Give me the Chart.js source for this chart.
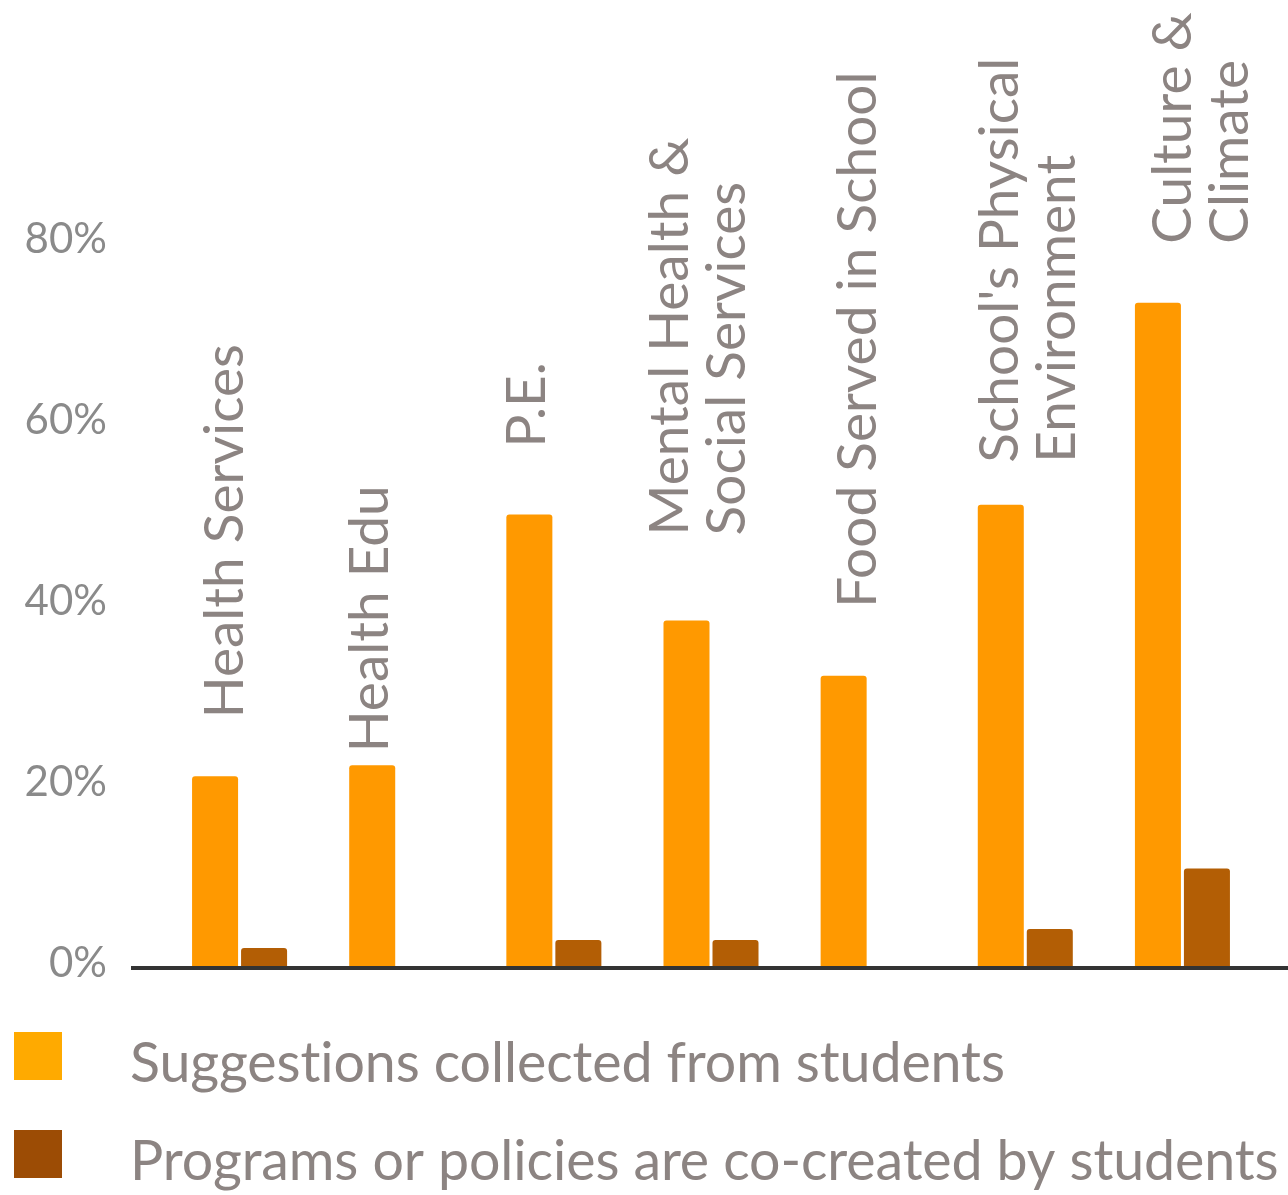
<!DOCTYPE html>
<html>
<head>
<meta charset="utf-8">
<script src="https://cdn.jsdelivr.net/npm/chart.js@4.4.1/dist/chart.umd.min.js"></script>
<style>
  html, body { margin: 0; padding: 0; background: #fff; }
  #wrap { width: 1288px; height: 1195px; }
</style>
</head>
<body>
<div id="wrap"><canvas id="studentChart" width="1288" height="1195"></canvas></div>
<script>
// categories, split into the lines used for the rotated labels
const categories = [
  ['Health Services'],
  ['Health Edu'],
  ['P.E.'],
  ['Mental Health &', 'Social Services'],
  ['Food Served in School'],
  ["School's Physical", 'Environment'],
  ['Culture &', 'Climate']
];
const suggestions = [21.2, 22.4, 50.1, 38.4, 32.3, 51.2, 73.5];
const coCreated = [2.2, null, 3.1, 3.1, null, 4.3, 11.0];
const seriesNames = ['Suggestions collected from students', 'Programs or policies are co-created by students'];
const yTicks = [0, 20, 40, 60, 80];

const barColors = ['#FF9900', '#B35E05'];
const legendColors = ['#FFAA00', '#9C4C05'];
const textGray = '#8c8482';

// rotated label placement: baseline shift from the category centre, gap above the bar
const labelNudgeX = [3, -9, -9, 34, 8, 50, 66];
const labelLift = [58, 13, 67, 85, 68, 42, 59];

const categoryLabels = {
  id: 'categoryLabels',
  afterDatasetsDraw(chart) {
    const ctx = chart.ctx;
    const xs = chart.scales.x;
    const bars = chart.getDatasetMeta(0).data;
    ctx.save();
    ctx.font = '55px Lato';
    ctx.fillStyle = textGray;
    ctx.textAlign = 'left';
    ctx.textBaseline = 'alphabetic';
    bars.forEach((bar, i) => {
      const lines = chart.data.labels[i];
      ctx.save();
      ctx.translate(xs.getPixelForValue(i) + labelNudgeX[i], bar.y - labelLift[i]);
      ctx.rotate(-Math.PI / 2);
      lines.forEach((line, k) => ctx.fillText(line, 0, -(lines.length - 1 - k) * 57));
      ctx.restore();
    });
    ctx.restore();
  }
};

const baseLine = {
  id: 'baseLine',
  afterDatasetsDraw(chart) {
    const ctx = chart.ctx;
    const y = chart.scales.y.getPixelForValue(0);
    ctx.save();
    ctx.fillStyle = '#333333';
    ctx.fillRect(131, y - 2, chart.width - 131, 4);
    ctx.restore();
  }
};

const stackedLegend = {
  id: 'stackedLegend',
  afterDraw(chart) {
    const ctx = chart.ctx;
    const top = chart.chartArea.bottom + 64;
    ctx.save();
    ctx.font = '55.5px Lato';
    ctx.letterSpacing = '-0.1px'; // keeps the "ti" pair unligated
    ctx.textAlign = 'left';
    ctx.textBaseline = 'alphabetic';
    chart.data.datasets.forEach((ds, i) => {
      const y = top + i * 98;
      ctx.fillStyle = legendColors[i];
      ctx.fillRect(14, y, 48, 48);
      ctx.fillStyle = textGray;
      ctx.fillText(ds.label, 130, y + 50);
    });
    ctx.restore();
  }
};

new Chart(document.getElementById('studentChart'), {
  type: 'bar',
  data: {
    labels: categories,
    datasets: [{
      label: seriesNames[0],
      data: suggestions,
      backgroundColor: barColors[0],
      borderRadius: 3,
      barPercentage: 0.939,
      categoryPercentage: 0.6237
    }, {
      label: seriesNames[1],
      data: coCreated,
      backgroundColor: barColors[1],
      borderRadius: 3,
      barPercentage: 0.939,
      categoryPercentage: 0.6237
    }]
  },
  options: {
    responsive: false,
    devicePixelRatio: 1,
    animation: false,
    layout: { padding: { left: 0, right: 27, top: 244, bottom: 227 } },
    plugins: {
      legend: { display: false },
      tooltip: { enabled: false }
    },
    scales: {
      x: { display: false },
      y: {
        min: 0,
        max: 80,
        afterFit(scale) { scale.width = 161; },
        afterBuildTicks(scale) { scale.ticks = yTicks.map(v => ({ value: v })); },
        grid: { display: false },
        border: { display: false },
        ticks: {
          padding: 46,
          labelOffset: -5,
          color: '#8a8a8a',
          font: { family: 'Lato', size: 42 },
          callback: v => v + '%'
        }
      }
    }
  },
  plugins: [categoryLabels, baseLine, stackedLegend]
});
</script>
</body>
</html>
